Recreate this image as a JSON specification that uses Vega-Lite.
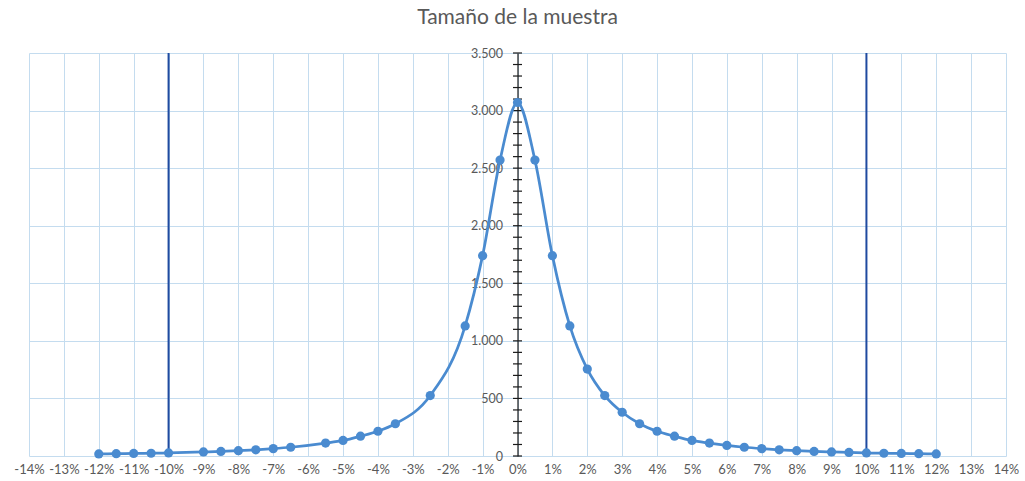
{
  "$schema": "https://vega.github.io/schema/vega-lite/v6.json",
  "width": 977,
  "height": 403,
  "autosize": "none",
  "padding": {"left": 29, "top": 53, "right": 19, "bottom": 25},
  "background": "white",
  "title": {"text": "Tamaño de la muestra", "fontSize": 21, "font": "Lato", "fontWeight": "normal", "color": "#595959", "offset": 19, "anchor": "middle"},
  "config": {"view": {"stroke": null}},
  "datasets": {
    "serie": [
      {"pct": -0.12, "n": 18}, {"pct": -0.115, "n": 20}, {"pct": -0.11, "n": 22}, {"pct": -0.105, "n": 24}, {"pct": -0.10, "n": 27},
      {"pct": -0.09, "n": 35}, {"pct": -0.085, "n": 40}, {"pct": -0.08, "n": 46}, {"pct": -0.075, "n": 54}, {"pct": -0.07, "n": 64},
      {"pct": -0.065, "n": 76}, {"pct": -0.055, "n": 112}, {"pct": -0.05, "n": 135}, {"pct": -0.045, "n": 172}, {"pct": -0.04, "n": 215},
      {"pct": -0.035, "n": 280}, {"pct": -0.025, "n": 525}, {"pct": -0.015, "n": 1130}, {"pct": -0.01, "n": 1740}, {"pct": -0.005, "n": 2570},
      {"pct": 0, "n": 3070},
      {"pct": 0.005, "n": 2570}, {"pct": 0.01, "n": 1740}, {"pct": 0.015, "n": 1130}, {"pct": 0.02, "n": 755}, {"pct": 0.025, "n": 525},
      {"pct": 0.03, "n": 380}, {"pct": 0.035, "n": 280}, {"pct": 0.04, "n": 215}, {"pct": 0.045, "n": 172}, {"pct": 0.05, "n": 135},
      {"pct": 0.055, "n": 112}, {"pct": 0.06, "n": 92}, {"pct": 0.065, "n": 76}, {"pct": 0.07, "n": 64}, {"pct": 0.075, "n": 54},
      {"pct": 0.08, "n": 46}, {"pct": 0.085, "n": 40}, {"pct": 0.09, "n": 35}, {"pct": 0.095, "n": 31}, {"pct": 0.10, "n": 27},
      {"pct": 0.105, "n": 24}, {"pct": 0.11, "n": 22}, {"pct": 0.115, "n": 20}, {"pct": 0.12, "n": 18}
    ],
    "limites": [{"pct": -0.10}, {"pct": 0.10}],
    "marcas": [
      {"pct": 0, "n": 0}, {"pct": 0, "n": 100}, {"pct": 0, "n": 200}, {"pct": 0, "n": 300}, {"pct": 0, "n": 400},
      {"pct": 0, "n": 500}, {"pct": 0, "n": 600}, {"pct": 0, "n": 700}, {"pct": 0, "n": 800}, {"pct": 0, "n": 900},
      {"pct": 0, "n": 1000}, {"pct": 0, "n": 1100}, {"pct": 0, "n": 1200}, {"pct": 0, "n": 1300}, {"pct": 0, "n": 1400},
      {"pct": 0, "n": 1500}, {"pct": 0, "n": 1600}, {"pct": 0, "n": 1700}, {"pct": 0, "n": 1800}, {"pct": 0, "n": 1900},
      {"pct": 0, "n": 2000}, {"pct": 0, "n": 2100}, {"pct": 0, "n": 2200}, {"pct": 0, "n": 2300}, {"pct": 0, "n": 2400},
      {"pct": 0, "n": 2500}, {"pct": 0, "n": 2600}, {"pct": 0, "n": 2700}, {"pct": 0, "n": 2800}, {"pct": 0, "n": 2900},
      {"pct": 0, "n": 3000}, {"pct": 0, "n": 3100}, {"pct": 0, "n": 3200}, {"pct": 0, "n": 3300}, {"pct": 0, "n": 3400},
      {"pct": 0, "n": 3500}
    ]
  },
  "encoding": {
    "x": {
      "field": "pct", "type": "quantitative",
      "scale": {"domain": [-0.14, 0.14], "nice": false, "zero": false},
      "axis": {
        "title": null, "orient": "bottom",
        "values": [-0.14, -0.13, -0.12, -0.11, -0.1, -0.09, -0.08, -0.07, -0.06, -0.05, -0.04, -0.03, -0.02, -0.01, 0, 0.01, 0.02, 0.03, 0.04, 0.05, 0.06, 0.07, 0.08, 0.09, 0.1, 0.11, 0.12, 0.13, 0.14],
        "labelExpr": "(datum.value < -0.0001 ? '-' : '') + format(abs(datum.value), '.0%')",
        "grid": true, "gridColor": "#c4dcef", "gridWidth": 1,
        "domain": false, "ticks": false, "tickSize": 0,
        "labelPadding": 7, "labelFont": "Lato", "labelFontSize": 13, "labelColor": "#595959",
        "labelOverlap": false, "labelFlush": false, "labelBound": false
      }
    }
  },
  "layer": [
    {
      "data": {"name": "limites"},
      "mark": {"type": "rule", "color": "#1f4aa0", "strokeWidth": 2},
      "encoding": {}
    },
    {
      "data": {"name": "marcas"},
      "mark": {"type": "tick", "orient": "horizontal", "size": 9, "thickness": 1.2, "color": "#1a1a1a", "opacity": 1},
      "encoding": {
        "y": {
          "field": "n", "type": "quantitative",
          "scale": {"domain": [0, 3500], "nice": false},
          "axis": {
            "title": null, "orient": "left", "offset": -488.5,
            "values": [0, 500, 1000, 1500, 2000, 2500, 3000, 3500],
            "labelExpr": "replace(format(datum.value, ','), ',', '.')",
            "grid": true, "gridColor": "#c4dcef", "gridWidth": 1,
            "domain": true, "domainColor": "#1a1a1a", "domainWidth": 1.2,
            "ticks": false, "tickSize": 0,
            "labelPadding": 15, "labelFont": "Lato", "labelFontSize": 12.5, "labelColor": "#595959",
            "labelOverlap": false, "labelFlush": false
          }
        }
      }
    },
    {
      "data": {"name": "serie"},
      "mark": {"type": "line", "interpolate": "monotone", "color": "#4a8bd0", "strokeWidth": 2.75, "point": {"filled": true, "size": 85, "color": "#4a8bd0", "opacity": 1}},
      "encoding": {
        "y": {
          "field": "n", "type": "quantitative",
          "scale": {"domain": [0, 3500], "nice": false},
          "axis": {
            "title": null, "orient": "left", "offset": -488.5,
            "values": [0, 500, 1000, 1500, 2000, 2500, 3000, 3500],
            "labelExpr": "replace(format(datum.value, ','), ',', '.')",
            "grid": true, "gridColor": "#c4dcef", "gridWidth": 1,
            "domain": true, "domainColor": "#1a1a1a", "domainWidth": 1.2,
            "ticks": false, "tickSize": 0,
            "labelPadding": 15, "labelFont": "Lato", "labelFontSize": 12.5, "labelColor": "#595959",
            "labelOverlap": false, "labelFlush": false
          }
        }
      }
    }
  ]
}
